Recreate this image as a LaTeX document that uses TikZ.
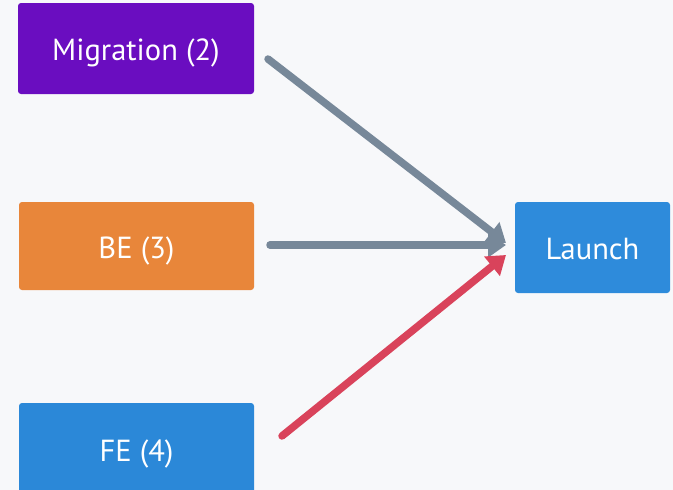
\documentclass[tikz,border=0pt]{standalone}
\usepackage{fontspec}
\setmainfont{PT Sans}
\usetikzlibrary{arrows.meta}
\definecolor{bg}{HTML}{F7F8FA}
\definecolor{migc}{HTML}{6A0DC0}
\definecolor{bec}{HTML}{E8863A}
\definecolor{fec}{HTML}{2B88D8}
\definecolor{lac}{HTML}{2E8BDB}
\definecolor{grayc}{HTML}{778899}
\definecolor{redc}{HTML}{D9435B}
\tikzset{
  box/.style={rectangle, rounded corners=3pt, inner sep=0pt, text=white,
    text height=24pt, text depth=0pt,
    font=\fontsize{30.5}{36}\selectfont},
  conn/.style={line width=7.5pt, line cap=round, -{Triangle[length=18pt,width=24pt]}},
}
\begin{document}
\begin{tikzpicture}[x=1pt,y=-1pt]
\useasboundingbox (0,0) rectangle (673,490);
\fill[bg] (0,0) rectangle (673,490);
\node[box, fill=migc, minimum width=236pt, minimum height=91pt] (mig) at (136,48.5) {Migration (2)};
\node[box, fill=bec, minimum width=235pt, minimum height=88pt] (be) at (136.5,246) {BE (3)};
\node[box, fill=fec, minimum width=235pt, minimum height=92pt] (fe) at (136.5,449) {FE (4)};
\node[box, fill=lac, minimum width=155pt, minimum height=91pt] (la) at (592.5,247.5) {Launch};
\coordinate (s1) at (268,59);
\coordinate (s2) at (270,245);
\coordinate (s3) at (282,436);
\coordinate (e1) at (506,243);
\coordinate (e2) at (506,245);
\coordinate (e3) at (506,255);
\draw[conn, grayc] (s1) -- (e1);
\draw[conn, grayc] (s2) -- (e2);
\draw[conn, redc] (s3) -- (e3);
\end{tikzpicture}
\end{document}
